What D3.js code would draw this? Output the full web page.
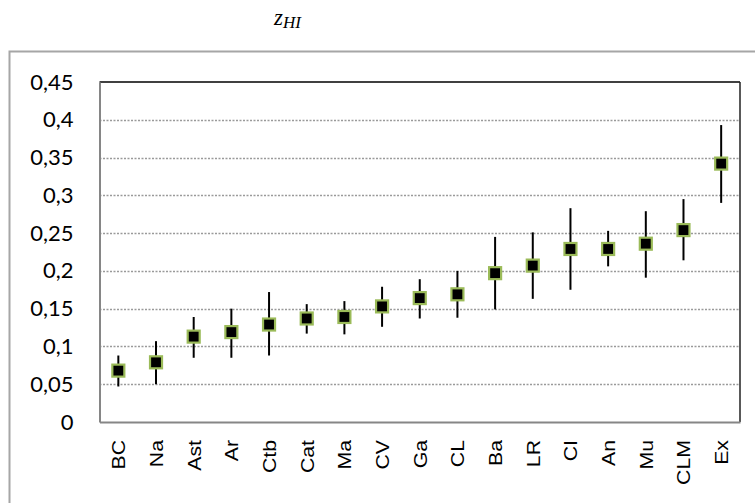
<!DOCTYPE html>
<html>
<head>
<meta charset="utf-8">
<script src="https://cdn.jsdelivr.net/npm/d3@7"></script>
<style>
  html, body { margin: 0; padding: 0; background: #fff; }
  svg { display: block; }
</style>
</head>
<body>
<svg id="chart" width="755" height="503"></svg>
<script>
// Categories, ordered by mean z_HI
const categories = ["BC","Na","Ast","Ar","Ctb","Cat","Ma","CV","Ga","CL","Ba","LR","CI","An","Mu","CLM","Ex"];
// Mean values
const means = [0.068,0.079,0.113,0.119,0.129,0.137,0.139,0.153,0.164,0.169,0.197,0.207,0.229,0.229,0.236,0.254,0.342];
// Upper and lower ends of the error bars
const upper = [0.088,0.107,0.139,0.150,0.172,0.156,0.160,0.179,0.189,0.200,0.245,0.251,0.283,0.253,0.279,0.295,0.393];
const lower = [0.047,0.050,0.085,0.085,0.088,0.117,0.116,0.126,0.137,0.138,0.149,0.163,0.175,0.206,0.191,0.214,0.290];
// Y axis ticks
const yTicks = [0,0.05,0.1,0.15,0.2,0.25,0.3,0.35,0.4,0.45];

const svg = d3.select("#chart");
const plot = { left: 99.5, top: 82, right: 740, bottom: 422 };

// Outer chart frame (runs past the right and bottom edges)
svg.append("rect")
  .attr("x", 9.5).attr("y", 51.5)
  .attr("width", 800).attr("height", 500)
  .attr("fill", "none").attr("stroke", "#a6a6a6").attr("stroke-width", 2);

// Title
const title = svg.append("text")
  .attr("x", 274).attr("y", 25)
  .attr("font-family", "'Liberation Serif', 'DejaVu Serif', serif")
  .attr("font-style", "italic")
  .attr("font-size", 23)
  .attr("fill", "#000");
title.append("tspan").text("z");
title.append("tspan").attr("font-size", 17).attr("dy", 3).text("HI");

const x = d3.scaleBand().domain(categories).range([plot.left, plot.right]);
const y = d3.scaleLinear().domain([0, 0.45]).range([plot.bottom, plot.top]);

// Gridlines
svg.append("g")
  .selectAll("line")
  .data(yTicks.filter(t => t > 0 && t < 0.45))
  .join("line")
  .attr("x1", plot.left).attr("x2", plot.right)
  .attr("y1", d => Math.round(y(d)) + 0.5).attr("y2", d => Math.round(y(d)) + 0.5)
  .attr("stroke", "#9a9a9a").attr("stroke-width", 1.5)
  .attr("stroke-dasharray", "2,1.5");

// Plot area border: dark top/right, grey axes left/bottom
svg.append("line").attr("x1", plot.left).attr("x2", plot.right)
  .attr("y1", plot.top).attr("y2", plot.top)
  .attr("stroke", "#000").attr("stroke-width", 1.5);
svg.append("line").attr("x1", plot.right).attr("x2", plot.right)
  .attr("y1", plot.top).attr("y2", plot.bottom)
  .attr("stroke", "#222").attr("stroke-width", 1.5);

// Y axis
const yAxis = d3.axisLeft(y).tickValues(yTicks).tickSize(0).tickPadding(26)
  .tickFormat(d => d3.format("")(d).replace(".", ","));
const gy = svg.append("g").attr("transform", `translate(${plot.left},0)`).call(yAxis);
gy.select(".domain").attr("stroke", "#868686").attr("stroke-width", 2);
gy.selectAll("text")
  .attr("font-family", "Lato, 'Open Sans', sans-serif")
  .attr("font-size", 22).attr("fill", "#000");

// X axis
const xAxis = d3.axisBottom(x).tickSize(0).tickPadding(0);
const gx = svg.append("g").attr("transform", `translate(0,${plot.bottom})`).call(xAxis);
gx.select(".domain").attr("stroke", "#868686").attr("stroke-width", 2);
gx.selectAll("text")
  .attr("font-family", "'Liberation Sans', Arial, sans-serif")
  .attr("font-size", 19).attr("fill", "#000")
  .attr("text-anchor", "end")
  .attr("dy", null)
  .attr("transform", "translate(7,18) rotate(-90) scale(1.12,1)");

const idx = d3.range(categories.length);
const cx = i => x(categories[i]) + x.bandwidth() / 2;

// Error bars
svg.append("g").selectAll("line").data(idx).join("line")
  .attr("x1", cx).attr("x2", cx)
  .attr("y1", i => y(upper[i])).attr("y2", i => y(lower[i]))
  .attr("stroke", "#000").attr("stroke-width", 2);

// Markers
const ms = 12;
svg.append("g").selectAll("rect").data(idx).join("rect")
  .attr("x", i => cx(i) - ms / 2).attr("y", i => y(means[i]) - ms / 2)
  .attr("width", ms).attr("height", ms)
  .attr("fill", "#000").attr("stroke", "#9bbb59").attr("stroke-width", 2.2);
</script>
</body>
</html>
